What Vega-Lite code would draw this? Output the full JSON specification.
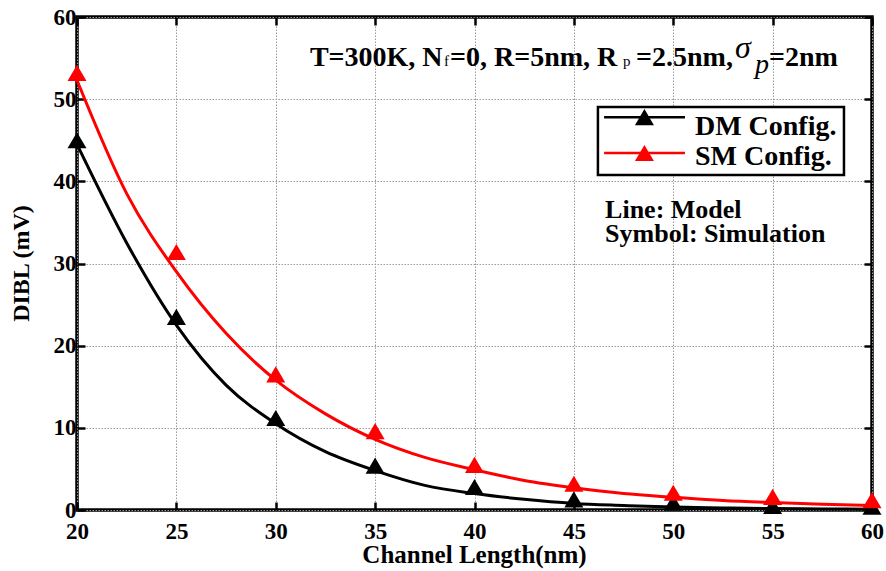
{
  "$schema": "https://vega.github.io/schema/vega-lite/v6.json",
  "width": 795,
  "height": 493,
  "autosize": "none",
  "padding": {"left": 77, "top": 17, "right": 14, "bottom": 61},
  "background": "white",
  "config": {
    "view": {"stroke": "black", "strokeWidth": 3.5},
    "font": "Liberation Serif",
    "axis": {
      "labelFont": "Liberation Serif",
      "labelFontWeight": "bold",
      "labelFontSize": 23,
      "labelColor": "black",
      "titleFont": "Liberation Serif",
      "titleFontWeight": "bold",
      "titleColor": "black",
      "gridColor": "#9a9a9a",
      "gridDash": [1.5, 1.5],
      "gridWidth": 1,
      "gridOpacity": 1,
      "domain": false,
      "tickColor": "black",
      "tickWidth": 2.5,
      "tickSize": -8
    },
    "text": {"font": "Liberation Serif", "fontWeight": "bold", "color": "black", "align": "left", "baseline": "alphabetic"}
  },
  "datasets": {
    "model": [
      {"L": 20, "DIBL": 44.5, "config": "DM Config."},
      {"L": 22.5, "DIBL": 32.5, "config": "DM Config."},
      {"L": 25, "DIBL": 22.5, "config": "DM Config."},
      {"L": 27.5, "DIBL": 15.2, "config": "DM Config."},
      {"L": 30, "DIBL": 10.5, "config": "DM Config."},
      {"L": 32.5, "DIBL": 7.1, "config": "DM Config."},
      {"L": 35, "DIBL": 4.8, "config": "DM Config."},
      {"L": 37.5, "DIBL": 3.0, "config": "DM Config."},
      {"L": 40, "DIBL": 2.0, "config": "DM Config."},
      {"L": 42.5, "DIBL": 1.3, "config": "DM Config."},
      {"L": 45, "DIBL": 0.8, "config": "DM Config."},
      {"L": 47.5, "DIBL": 0.55, "config": "DM Config."},
      {"L": 50, "DIBL": 0.35, "config": "DM Config."},
      {"L": 52.5, "DIBL": 0.25, "config": "DM Config."},
      {"L": 55, "DIBL": 0.18, "config": "DM Config."},
      {"L": 57.5, "DIBL": 0.13, "config": "DM Config."},
      {"L": 60, "DIBL": 0.1, "config": "DM Config."},
      {"L": 20, "DIBL": 52.3, "config": "SM Config."},
      {"L": 22.5, "DIBL": 38.5, "config": "SM Config."},
      {"L": 25, "DIBL": 29.0, "config": "SM Config."},
      {"L": 27.5, "DIBL": 21.5, "config": "SM Config."},
      {"L": 30, "DIBL": 15.8, "config": "SM Config."},
      {"L": 32.5, "DIBL": 11.7, "config": "SM Config."},
      {"L": 35, "DIBL": 8.6, "config": "SM Config."},
      {"L": 37.5, "DIBL": 6.4, "config": "SM Config."},
      {"L": 40, "DIBL": 4.9, "config": "SM Config."},
      {"L": 42.5, "DIBL": 3.6, "config": "SM Config."},
      {"L": 45, "DIBL": 2.7, "config": "SM Config."},
      {"L": 47.5, "DIBL": 2.0, "config": "SM Config."},
      {"L": 50, "DIBL": 1.55, "config": "SM Config."},
      {"L": 52.5, "DIBL": 1.15, "config": "SM Config."},
      {"L": 55, "DIBL": 0.9, "config": "SM Config."},
      {"L": 57.5, "DIBL": 0.7, "config": "SM Config."},
      {"L": 60, "DIBL": 0.55, "config": "SM Config."}
    ],
    "sim": [
      {"L": 20, "DIBL": 45.0, "config": "DM Config."},
      {"L": 25, "DIBL": 23.5, "config": "DM Config."},
      {"L": 30, "DIBL": 11.2, "config": "DM Config."},
      {"L": 35, "DIBL": 5.4, "config": "DM Config."},
      {"L": 40, "DIBL": 2.8, "config": "DM Config."},
      {"L": 45, "DIBL": 1.3, "config": "DM Config."},
      {"L": 50, "DIBL": 0.9, "config": "DM Config."},
      {"L": 55, "DIBL": 0.5, "config": "DM Config."},
      {"L": 60, "DIBL": 0.4, "config": "DM Config."},
      {"L": 20, "DIBL": 53.2, "config": "SM Config."},
      {"L": 25, "DIBL": 31.4, "config": "SM Config."},
      {"L": 30, "DIBL": 16.5, "config": "SM Config."},
      {"L": 35, "DIBL": 9.6, "config": "SM Config."},
      {"L": 40, "DIBL": 5.5, "config": "SM Config."},
      {"L": 45, "DIBL": 3.2, "config": "SM Config."},
      {"L": 50, "DIBL": 2.1, "config": "SM Config."},
      {"L": 55, "DIBL": 1.6, "config": "SM Config."},
      {"L": 60, "DIBL": 1.2, "config": "SM Config."}
    ],
    "one": [{}]
  },
  "resolve": {"axis": {"x": "independent", "y": "independent"}},
  "layer": [
    {
      "data": {"name": "model"},
      "mark": {"type": "line", "strokeWidth": 3, "interpolate": "monotone"},
      "encoding": {
        "x": {
          "field": "L", "type": "quantitative",
          "scale": {"domain": [20, 60], "nice": false, "zero": false},
          "axis": {
            "title": "Channel Length(nm)", "titleFontSize": 25,
            "values": [20, 25, 30, 35, 40, 45, 50, 55, 60],
            "labelPadding": 18, "labelFlush": false,
            "titleX": 397, "titleY": 52, "titleBaseline": "alphabetic"
          }
        },
        "y": {
          "field": "DIBL", "type": "quantitative",
          "scale": {"domain": [0, 60], "nice": false},
          "axis": {
            "title": "DIBL (mV)", "titleFontSize": 24,
            "values": [0, 10, 20, 30, 40, 50, 60],
            "labelPadding": 9, "labelFlush": false,
            "titleX": -49, "titleY": 246, "titleBaseline": "alphabetic", "titleAngle": -90
          }
        },
        "color": {
          "field": "config", "type": "nominal",
          "scale": {"domain": ["DM Config.", "SM Config."], "range": ["#000000", "#ff0000"]},
          "legend": null
        },
        "order": {"field": "L", "type": "quantitative"}
      }
    },
    {
      "data": {"name": "sim"},
      "mark": {"type": "point", "filled": true, "opacity": 1, "shape": "M-1,0.85L1,0.85L0,-0.85Z", "size": 361},
      "encoding": {
        "x": {
          "field": "L", "type": "quantitative",
          "axis": {"orient": "top", "labels": false, "title": null, "grid": false, "values": [20, 25, 30, 35, 40, 45, 50, 55, 60]}
        },
        "y": {
          "field": "DIBL", "type": "quantitative",
          "axis": {"orient": "right", "labels": false, "title": null, "grid": false, "values": [0, 10, 20, 30, 40, 50, 60]}
        },
        "color": {"field": "config", "type": "nominal", "legend": null}
      }
    },
    {
      "data": {"name": "one"},
      "mark": {"type": "rect", "fill": "white", "stroke": "black", "strokeWidth": 2.5},
      "encoding": {
        "x": {"datum": 46.21, "axis": null}, "x2": {"datum": 58.59},
        "y": {"datum": 49.05, "axis": null}, "y2": {"datum": 40.77}
      }
    },
    {
      "data": {"name": "one"},
      "mark": {"type": "rule", "color": "black", "strokeWidth": 2.5},
      "encoding": {"x": {"datum": 46.52, "axis": null}, "x2": {"datum": 50.59}, "y": {"datum": 47.81, "axis": null}}
    },
    {
      "data": {"name": "one"},
      "mark": {"type": "rule", "color": "#ff0000", "strokeWidth": 2.5},
      "encoding": {"x": {"datum": 46.52, "axis": null}, "x2": {"datum": 50.59}, "y": {"datum": 43.45, "axis": null}}
    },
    {
      "data": {"name": "one"},
      "mark": {"type": "point", "filled": true, "opacity": 1, "color": "black", "shape": "M-1,0.85L1,0.85L0,-0.85Z", "size": 361},
      "encoding": {"x": {"datum": 48.55, "axis": null}, "y": {"datum": 47.81, "axis": null}}
    },
    {
      "data": {"name": "one"},
      "mark": {"type": "point", "filled": true, "opacity": 1, "color": "#ff0000", "shape": "M-1,0.85L1,0.85L0,-0.85Z", "size": 361},
      "encoding": {"x": {"datum": 48.55, "axis": null}, "y": {"datum": 43.45, "axis": null}}
    },
    {
      "data": {"name": "one"},
      "mark": {"type": "text", "fontSize": 28},
      "encoding": {"x": {"datum": 51.09, "axis": null}, "y": {"datum": 45.64, "axis": null}, "text": {"value": "DM Config."}}
    },
    {
      "data": {"name": "one"},
      "mark": {"type": "text", "fontSize": 28},
      "encoding": {"x": {"datum": 51.09, "axis": null}, "y": {"datum": 41.99, "axis": null}, "text": {"value": "SM Config."}}
    },
    {
      "data": {"name": "one"},
      "mark": {"type": "text", "fontSize": 28},
      "encoding": {"x": {"datum": 31.72, "axis": null}, "y": {"datum": 54.04, "axis": null}, "text": {"value": "T=300K, N"}}
    },
    {
      "data": {"name": "one"},
      "mark": {"type": "text", "fontSize": 15, "fontWeight": "normal"},
      "encoding": {"x": {"datum": 38.47, "axis": null}, "y": {"datum": 54.04, "axis": null}, "text": {"value": "f"}}
    },
    {
      "data": {"name": "one"},
      "mark": {"type": "text", "fontSize": 28},
      "encoding": {"x": {"datum": 38.77, "axis": null}, "y": {"datum": 54.04, "axis": null}, "text": {"value": "=0, R=5nm, R"}}
    },
    {
      "data": {"name": "one"},
      "mark": {"type": "text", "fontSize": 15, "fontWeight": "normal"},
      "encoding": {"x": {"datum": 47.47, "axis": null}, "y": {"datum": 54.04, "axis": null}, "text": {"value": "p"}}
    },
    {
      "data": {"name": "one"},
      "mark": {"type": "text", "fontSize": 28},
      "encoding": {"x": {"datum": 48.13, "axis": null}, "y": {"datum": 54.04, "axis": null}, "text": {"value": "=2.5nm,"}}
    },
    {
      "data": {"name": "one"},
      "mark": {"type": "text", "fontSize": 32, "fontWeight": "normal", "fontStyle": "italic"},
      "encoding": {"x": {"datum": 53.11, "axis": null}, "y": {"datum": 55.01, "axis": null}, "text": {"value": "σ"}}
    },
    {
      "data": {"name": "one"},
      "mark": {"type": "text", "fontSize": 28, "fontWeight": "normal", "fontStyle": "italic"},
      "encoding": {"x": {"datum": 54.11, "axis": null}, "y": {"datum": 53.18, "axis": null}, "text": {"value": "p"}}
    },
    {
      "data": {"name": "one"},
      "mark": {"type": "text", "fontSize": 28},
      "encoding": {"x": {"datum": 54.82, "axis": null}, "y": {"datum": 54.04, "axis": null}, "text": {"value": "=2nm"}}
    },
    {
      "data": {"name": "one"},
      "mark": {"type": "text", "fontSize": 26},
      "encoding": {"x": {"datum": 46.57, "axis": null}, "y": {"datum": 35.54, "axis": null}, "text": {"value": "Line: Model"}}
    },
    {
      "data": {"name": "one"},
      "mark": {"type": "text", "fontSize": 26},
      "encoding": {"x": {"datum": 46.57, "axis": null}, "y": {"datum": 32.62, "axis": null}, "text": {"value": "Symbol: Simulation"}}
    }
  ]
}
